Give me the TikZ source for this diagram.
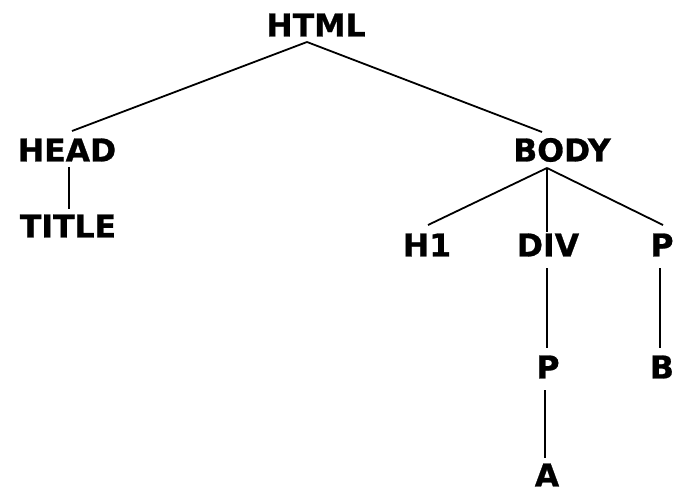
\documentclass[tikz,border=0pt]{standalone}
\usepackage{fontspec}
\setmainfont{DejaVu Sans}[BoldFeatures={FakeBold=0.9}]
\begin{document}
\begin{tikzpicture}[x=1pt,y=-1pt,
  tag/.style={font=\fontsize{31.5}{36}\bfseries\selectfont, inner sep=0pt, outer sep=0pt, anchor=center},
  edge/.style={line width=1.8pt, black}]
\useasboundingbox (0,0) rectangle (675,492);
% labels
\node[tag] (html)  at (316,25)  {HTML};
\node[tag] (head)  at (67,150)  {HEAD};
\node[tag] (title) at (68,226)  {TITLE};
\node[tag] (body)  at (562,150) {BODY};
\node[tag] (h1)    at (427,245) {H1};
\node[tag] (div)   at (548,245) {DIV};
\node[tag] (p1)    at (662,245) {P};
\node[tag] (p2)    at (548,367) {P};
\node[tag] (b)     at (662,367) {B};
\node[tag] (a)     at (547,475) {A};
% junction points
\coordinate (htmlj)  at (307,42);
\coordinate (headt)  at (72,131);
\coordinate (bodyt)  at (542,132);
\coordinate (headb)  at (69,167);
\coordinate (titlet) at (69,209);
\coordinate (bodyj)  at (547,168);
\coordinate (h1t)    at (428,225);
\coordinate (divt)   at (547,232);
\coordinate (p1t)    at (663,225);
\coordinate (divb)   at (547,268);
\coordinate (p2t)    at (547,348);
\coordinate (p1b)    at (660,268);
\coordinate (bt)     at (660,348);
\coordinate (p2b)    at (545,390);
\coordinate (at)     at (545,458);
% connectors
\draw[edge] (htmlj) -- (headt);
\draw[edge] (htmlj) -- (bodyt);
\draw[edge] (headb) -- (titlet);
\draw[edge] (bodyj) -- (h1t);
\draw[edge] (bodyj) -- (divt);
\draw[edge] (bodyj) -- (p1t);
\draw[edge] (divb) -- (p2t);
\draw[edge] (p1b) -- (bt);
\draw[edge] (p2b) -- (at);
\end{tikzpicture}
\end{document}
